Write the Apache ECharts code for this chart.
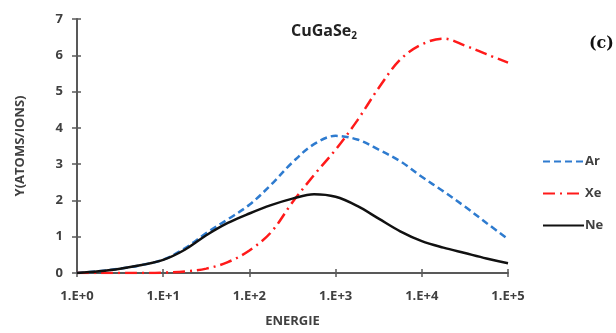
<!DOCTYPE html>
<html><head><meta charset="utf-8">
<script src="https://cdn.jsdelivr.net/npm/echarts@6/dist/echarts.min.js"></script>
<style>html,body{margin:0;padding:0;background:#fff}#c{width:616px;height:333px}</style>
</head><body><div id="c"></div>
<script>
const energies = [1, 1.78, 3.16, 5.62, 10, 17.8, 31.6, 56.2, 100, 178, 316, 562, 1000, 1780, 3160, 5620, 10000, 17800, 31600, 56200, 100000];
const arValues = [0, 0.05, 0.12, 0.22, 0.37, 0.68, 1.1, 1.48, 1.88, 2.43, 3.05, 3.55, 3.78, 3.68, 3.4, 3.08, 2.65, 2.25, 1.83, 1.38, 0.93];
const xeValues = [0, 0, 0, 0, 0.01, 0.04, 0.12, 0.3, 0.62, 1.12, 1.95, 2.7, 3.4, 4.2, 5.1, 5.88, 6.3, 6.46, 6.27, 6.03, 5.8];
const neValues = [0, 0.05, 0.12, 0.22, 0.36, 0.64, 1.04, 1.38, 1.64, 1.87, 2.05, 2.17, 2.1, 1.85, 1.5, 1.15, 0.88, 0.7, 0.55, 0.4, 0.27];
const yTicks = [0, 1, 2, 3, 4, 5, 6, 7];
const seriesNames = ['Ar', 'Xe', 'Ne'];

const pairs = v => energies.map((e, i) => [e, v[i]]);
const chart = echarts.init(document.getElementById('c'));
const lblFont = {color: '#404040', fontWeight: 'bold', fontSize: 13, fontFamily: 'Open Sans'};
const axisCol = '#595959';
const xBase = {type: 'log', logBase: 10, min: 1, max: 100000, splitLine: {show: false}, minorTick: {show: false}};
const yBase = {type: 'value', min: 0, max: 7, interval: 1, splitLine: {show: false}};
chart.setOption({
  animation: false,
  grid: {left: 77, right: 108, top: 19, bottom: 57},
  title: [{
    text: '{a|CuGaSe}{s|2}', left: 286, top: 17,
    textStyle: {rich: {a: {fontSize: 16, fontWeight: 'bold', color: '#222', fontFamily: 'Open Sans'},
                        s: {fontSize: 10, fontWeight: 'bold', color: '#222', fontFamily: 'Open Sans', padding: [9, 0, 0, 0]}}}
  }, {
    text: '(c)', left: 584, top: 31,
    textStyle: {fontSize: 16, fontWeight: 'bold', color: '#111', fontFamily: 'DejaVu Serif'}
  }],
  legend: {
    orient: 'vertical', left: 537, top: 150, itemWidth: 41, itemHeight: 10, itemGap: 19,
    data: seriesNames, itemStyle: {opacity: 0},
    textStyle: {color: '#404040', fontWeight: 'bold', fontSize: 13, fontFamily: 'Open Sans', padding: [0, 0, 0, -4]}
  },
  xAxis: [Object.assign({}, xBase, {
    name: 'ENERGIE', nameLocation: 'middle', nameGap: 42,
    nameTextStyle: {color: '#404040', fontWeight: 'bold', fontSize: 13, fontFamily: 'Open Sans'},
    axisLine: {show: true, lineStyle: {color: axisCol, width: 2}},
    axisTick: {show: true, inside: false, length: 4, lineStyle: {color: axisCol, width: 1.5}},
    axisLabel: Object.assign({margin: 17, formatter: v => '1.E+' + Math.round(Math.log10(v))}, lblFont)
  }), Object.assign({}, xBase, {
    position: 'bottom', axisLine: {show: false}, axisLabel: {show: false},
    axisTick: {show: true, inside: true, length: 4, lineStyle: {color: axisCol, width: 1.5}}
  })],
  yAxis: [Object.assign({}, yBase, {
    name: 'Y(ATOMS/IONS)', nameLocation: 'middle', nameGap: 50, nameRotate: 90,
    nameTextStyle: {color: '#404040', fontWeight: 'bold', fontSize: 13, fontFamily: 'Open Sans'},
    axisLine: {show: true, lineStyle: {color: axisCol, width: 2}},
    axisTick: {show: true, length: 5, lineStyle: {color: axisCol, width: 1.5}},
    axisLabel: Object.assign({margin: 14, formatter: v => yTicks.includes(v) ? String(v) : ''}, lblFont)
  }), Object.assign({}, yBase, {
    position: 'left', axisLine: {show: false}, axisLabel: {show: false},
    axisTick: {show: true, inside: true, length: 4, lineStyle: {color: axisCol, width: 1.5}}
  })],
  series: [
    {name: 'Ar', type: 'line', smooth: 0.35, symbol: 'none', data: pairs(arValues),
     lineStyle: {color: '#2e7bcf', width: 2.5, type: [7, 4]}, itemStyle: {color: '#2e7bcf'}, z: 2},
    {name: 'Xe', type: 'line', smooth: 0.35, symbol: 'none', data: pairs(xeValues),
     lineStyle: {color: '#ff1a1a', width: 2.5, type: [12, 5, 2, 5]}, itemStyle: {color: '#ff1a1a'}, z: 3},
    {name: 'Ne', type: 'line', smooth: 0.35, symbol: 'none', data: pairs(neValues),
     lineStyle: {color: '#111', width: 2.5}, itemStyle: {color: '#111'}, z: 4}
  ]
});
</script></body></html>
